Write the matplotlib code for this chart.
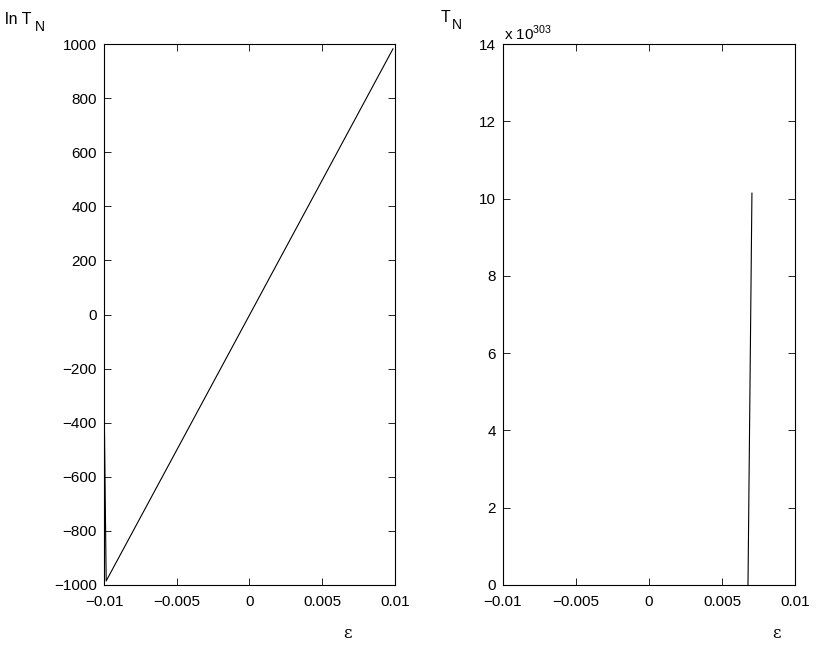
import matplotlib
matplotlib.use("Agg")
import matplotlib.pyplot as plt

plt.rcParams['font.family'] = ['Liberation Sans', 'DejaVu Sans']
plt.rcParams['mathtext.fontset'] = 'custom'
plt.rcParams['mathtext.rm'] = 'Liberation Sans'

# Left panel: ln T_N vs epsilon
eps_left = [-0.01, -0.009995, -0.00985, 0.00986]
ln_tn = [-160, -300, -985, 982]

# Right panel: T_N (units of 1e303) vs epsilon
eps_right = [0.00678, 0.00705]
tn_scaled = [0.0, 10.14]

x_ticks = [-0.01, -0.005, 0, 0.005, 0.01]
x_ticklabels = ['\u22120.01', '\u22120.005', '0', '0.005', '0.01']
left_yticks = [-1000, -800, -600, -400, -200, 0, 200, 400, 600, 800, 1000]
right_yticks = [0, 2, 4, 6, 8, 10, 12, 14]

fig = plt.figure(figsize=(8.17, 6.52), dpi=100)
axL = fig.add_axes([104/817, 1-585/652, 291/817, 541/652])
axR = fig.add_axes([503/817, 1-585/652, 292/817, 541/652])

def style(ax):
    ax.tick_params(direction='in', top=True, right=True, labelsize=11, length=5, width=0.6)
    ax.tick_params(axis='x', pad=7)
    ax.tick_params(axis='y', pad=5)
    for s in ax.spines.values():
        s.set_linewidth(0.8)
    ax.set_xlim(-0.01, 0.01)
    ax.set_xticks(x_ticks)
    ax.set_xticklabels(x_ticklabels)

axL.plot(eps_left, ln_tn, color='black', lw=0.8)
style(axL)
axL.set_ylim(-1000, 1000)
axL.set_yticks(left_yticks)
axL.set_yticklabels([str(v).replace('-', '\u2212') for v in left_yticks])

axR.plot(eps_right, tn_scaled, color='black', lw=0.8)
style(axR)
axR.set_ylim(0, 14)
axR.set_yticks(right_yticks)

fig.text(5/817, 1-19/652, 'ln T', fontsize=11.5, va='center', ha='left')
fig.text(35/817, 1-27/652, 'N', fontsize=10, va='center', ha='left')
fig.text(441/817, 1-17/652, 'T', fontsize=11.5, va='center', ha='left')
fig.text(452/817, 1-25/652, 'N', fontsize=10, va='center', ha='left')
fig.text(504/817, 1-33/652, r'x 10$^{303}$', fontsize=11, va='center', ha='left')

fig.text(348/817, 1-634/652, '\u03b5', fontsize=12, family='DejaVu Serif', ha='center', va='center')
fig.text(777/817, 1-634/652, '\u03b5', fontsize=12, family='DejaVu Serif', ha='center', va='center')

fig.savefig('out.png', dpi=100, facecolor='white')
